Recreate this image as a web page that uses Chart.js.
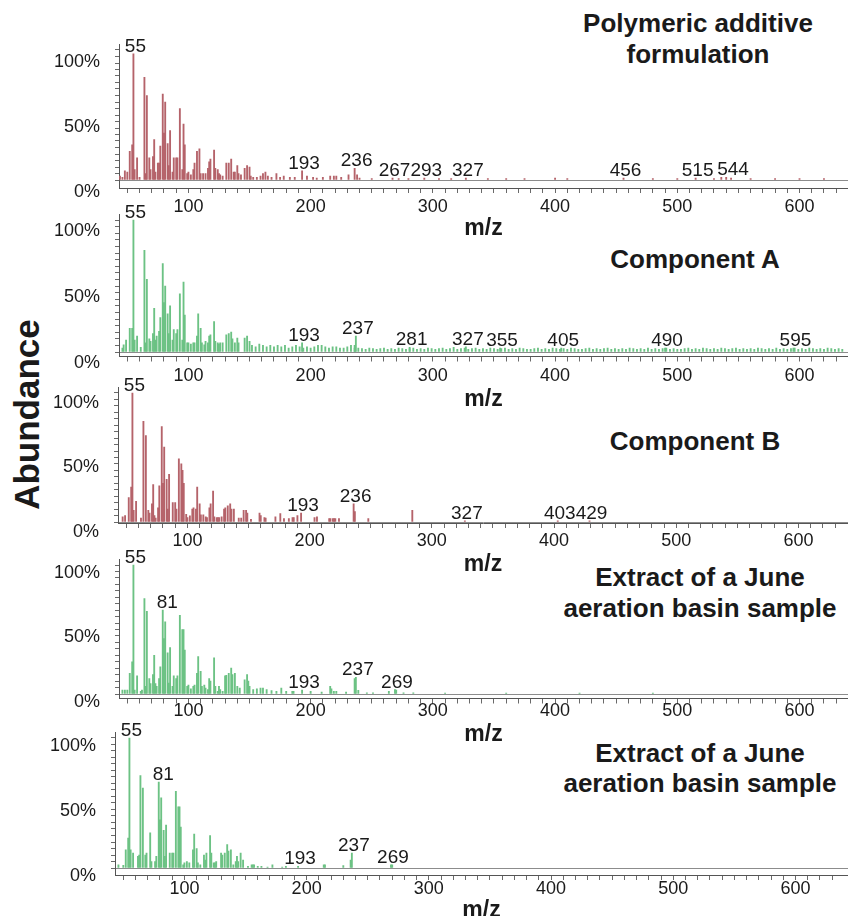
<!DOCTYPE html>
<html>
<head>
<meta charset="utf-8">
<title>EI mass spectra</title>
<script src="https://cdn.jsdelivr.net/npm/chart.js@4.4.1/dist/chart.umd.min.js"></script>
<style>
  html, body { margin: 0; padding: 0; background: #fff; }
  #fig {
    position: relative; width: 848px; height: 916px; overflow: hidden;
    font-family: "Liberation Sans", Arial, sans-serif; color: #1a1a1a;
  }
  .title {
    position: absolute; width: 420px; text-align: center;
    font-weight: bold; font-size: 26px; line-height: 31px;
  }
  #abundance {
    position: absolute; left: -124px; top: 397px; width: 300px;
    text-align: center; font-weight: bold; font-size: 35px; line-height: 35px;
    transform: rotate(-90deg);
  }
</style>
</head>
<body>
<div id="fig">
  <div id="abundance">Abundance</div>
  <div class="title" style="left:488px;top:8px">Polymeric additive<br>formulation</div>
  <div class="title" style="left:485px;top:244px">Component A</div>
  <div class="title" style="left:485px;top:426px">Component B</div>
  <div class="title" style="left:490px;top:562px">Extract of a June<br>aeration basin sample</div>
  <div class="title" style="left:490px;top:738px;line-height:30px">Extract of a June<br>aeration basin sample</div>
</div>
<script>
Chart.defaults.font.family = '"Liberation Sans", Arial, sans-serif';

// axis labels
const mzTicks = [100, 200, 300, 400, 500, 600];
const pctTicks = [0, 50, 100];

// Polymeric additive formulation
const polyMz = [
  44, 46, 48, 50, 52, 54, 55, 56, 58, 60,
  64, 65, 66, 68, 69, 71, 72, 73, 75, 76,
  77, 79, 80, 81, 83, 84, 85, 87, 88, 90,
  91, 93, 95, 96, 97, 99, 100, 102, 104, 105,
  107, 109, 110, 112, 114, 116, 117, 118, 121, 122,
  124, 125, 126, 128, 131, 133, 135, 137, 138, 140,
  141, 143, 146, 148, 150, 151, 153, 156, 159, 161,
  163, 165, 168, 172, 175, 178, 183, 187, 193, 197,
  202, 205, 210, 216, 219, 221, 225, 231, 236, 238,
  240, 250, 267, 272, 280, 293, 305, 315, 327, 345,
  360, 375, 400, 410, 456, 480, 500, 515, 530, 536,
  540, 544, 560, 580, 600, 620
];
const polyAb = [
  3, 2, 7, 6, 22, 27, 97, 8, 17, 2,
  79, 5, 65, 17, 8, 18, 31, 6, 13, 13,
  26, 66, 36, 60, 28, 11, 38, 6, 17, 17,
  17, 55, 8, 43, 27, 5, 6, 4, 8, 13,
  22, 24, 5, 5, 5, 9, 14, 16, 23, 9,
  8, 5, 4, 3, 13, 13, 16, 6, 6, 11,
  5, 4, 9, 11, 10, 3, 2, 2, 3, 5,
  6, 3, 2, 5, 2, 3, 2, 2, 7, 3,
  2, 1.5, 2, 3, 3, 3, 2, 4, 9, 4,
  1.5, 1, 1.5, 1, 1, 1.5, 1, 1, 1.5, 1,
  1, 1, 1.5, 1, 1.5, 1, 1, 1.5, 1, 2,
  2, 1.5, 1, 1, 1, 1
];
const polyPeaks = [55, 193, 236, 267, 293, 327, 456, 515, 544];

// Component A
const compAMz = [
  46, 47, 49, 52, 54, 55, 56, 58, 61, 64,
  65, 66, 68, 69, 71, 72, 73, 74, 76, 77,
  79, 80, 81, 83, 84, 85, 87, 88, 90, 91,
  93, 95, 96, 97, 99, 100, 102, 104, 105, 107,
  108, 110, 111, 113, 114, 116, 117, 118, 121, 122,
  124, 125, 126, 128, 131, 133, 135, 136, 138, 140,
  141, 146, 148, 150, 193, 236, 237, 281, 327, 355,
  405, 490, 595
];
const compAAb = [
  3, 5.5, 9, 18, 18, 100, 9, 12, 3.5, 77,
  7, 55, 10, 8, 14, 33, 9, 12, 15.6, 26,
  67, 37.5, 50, 29, 14, 35, 9, 17, 14, 17,
  44, 9, 53, 28, 7, 7, 6, 7, 7, 12,
  29, 18, 7, 5.5, 8, 7, 12, 13, 23, 8,
  7, 6, 7, 7, 13, 14, 15, 10, 7, 10.6,
  7, 10.6, 12, 8, 7, 5, 12, 3.5, 4, 3,
  3, 3, 3
];
// Component A low-level background ions
const compANoiseMz = [
  152, 155, 158, 161, 164, 167, 170, 173, 176, 179,
  182, 185, 188, 191, 194, 197, 200, 203, 206, 209,
  212, 215, 218, 221, 224, 227, 230, 233, 236, 239,
  242, 245, 248, 251, 254, 257, 260, 263, 266, 269,
  272, 275, 278, 281, 284, 287, 290, 293, 296, 299,
  302, 305, 308, 311, 314, 317, 320, 323, 326, 329,
  332, 335, 338, 341, 344, 347, 350, 353, 356, 359,
  362, 365, 368, 371, 374, 377, 380, 383, 386, 389,
  392, 395, 398, 401, 404, 407, 410, 413, 416, 419,
  422, 425, 428, 431, 434, 437, 440, 443, 446, 449,
  452, 455, 458, 461, 464, 467, 470, 473, 476, 479,
  482, 485, 488, 491, 494, 497, 500, 503, 506, 509,
  512, 515, 518, 521, 524, 527, 530, 533, 536, 539,
  542, 545, 548, 551, 554, 557, 560, 563, 566, 569,
  572, 575, 578, 581, 584, 587, 590, 593, 596, 599,
  602, 605, 608, 611, 614, 617, 620, 623, 626, 629,
  632, 635
];
const compANoiseAb = [
  5, 4, 6, 5, 4, 5, 4, 5, 4, 5,
  3, 4, 5, 4, 3, 4, 3, 4, 5, 5,
  4, 3, 4, 4, 3, 3, 4, 5, 3, 3,
  2.5, 2, 3, 2.5, 2, 2.5, 3, 2, 2.5, 2,
  3, 2.5, 2, 2.5, 3, 2, 2.5, 2, 3, 2.5,
  2, 2.5, 3, 2, 2.5, 3.5, 2, 2.5, 3, 2,
  2.5, 3, 2, 2.5, 2, 3, 2.5, 2, 2.5, 3,
  2, 2.5, 2, 3, 2.5, 2, 2, 2.5, 3, 2,
  2.5, 2, 3, 2.5, 2, 2.5, 2, 3, 2.5, 2,
  2, 2.5, 3, 2, 2.5, 2, 2.5, 3, 2, 2.5,
  2, 2.5, 2, 3, 2.5, 2, 2.5, 2, 3, 2,
  2.5, 2, 2.5, 3, 2, 2.5, 2, 2, 2.5, 3,
  2, 2.5, 2, 3, 2.5, 2, 2.5, 2, 3, 2.5,
  2, 2.5, 3, 2, 2.5, 2, 2.5, 2, 3, 2.5,
  2, 2.5, 2, 3, 2, 2.5, 2, 2.5, 3, 2,
  2.5, 2, 3, 2.5, 2, 2.5, 2, 3, 2.5, 2,
  2.5, 2
];
const compAPeaks = [55, 193, 237, 281, 327, 355, 405, 490, 595];

// Component B
const compBMz = [
  47, 49, 52, 54, 55, 56, 58, 62, 64, 66,
  68, 69, 71, 72, 73, 74, 76, 77, 79, 80,
  81, 83, 84, 85, 88, 90, 91, 93, 95, 96,
  97, 99, 100, 102, 104, 105, 107, 108, 110, 111,
  113, 115, 116, 118, 119, 121, 122, 124, 125, 126,
  128, 130, 131, 133, 135, 136, 138, 142, 144, 146,
  148, 149, 152, 159, 160, 163, 164, 172, 176, 179,
  183, 186, 187, 190, 193, 204, 206, 216, 217, 219,
  220, 221, 224, 236, 237, 248, 284, 327, 403, 429
];
const compBAb = [
  4, 5, 19, 27, 100, 9, 16, 3, 78, 67,
  9, 7, 14, 29, 5, 3, 11, 28, 74, 30,
  58, 33, 10, 37, 15, 15, 10, 49, 45, 40,
  30, 6, 3.4, 4.7, 10, 11, 10, 27, 14, 5.5,
  5.5, 4, 3.4, 11, 14, 24, 4, 3.4, 3.4, 3.4,
  4, 10, 11, 12.5, 14, 10, 10, 3, 3, 9,
  9, 7, 2, 7, 5, 3.4, 3, 4, 6.5, 2.6,
  2.6, 3.4, 3.4, 5, 7, 3.4, 4, 2.6, 2.6, 2.6,
  2.6, 2.6, 2.6, 14, 8, 2.6, 9, 1, 1, 1
];
const compBPeaks = [55, 193, 236, 327, 403, 429];

// Extract of a June aeration basin sample (first run)
const june1Mz = [
  46, 48, 50, 52, 54, 55, 56, 58, 61, 62,
  64, 65, 66, 68, 69, 71, 72, 73, 74, 76,
  77, 79, 80, 81, 83, 84, 85, 87, 88, 90,
  91, 93, 95, 96, 97, 99, 100, 102, 104, 105,
  107, 108, 110, 111, 113, 114, 116, 117, 118, 121,
  122, 124, 125, 126, 128, 130, 131, 133, 135, 136,
  138, 140, 142, 146, 148, 149, 150, 153, 156, 159,
  161, 164, 168, 172, 176, 180, 185, 186, 193, 200,
  209, 216, 217, 219, 221, 229, 236, 237, 239, 246,
  251, 264, 269, 270, 276, 284, 310, 360, 420, 480
];
const june1Ab = [
  3, 3, 3, 16, 25, 100, 3, 14, 2, 3,
  74, 6, 64, 12, 8, 15, 30, 8, 6, 12,
  21, 65, 43, 56, 32, 8.5, 36, 6, 14, 12,
  14, 61, 50, 50, 34, 6, 7, 4, 6, 7,
  16, 29, 17.5, 6, 7, 4.5, 3.4, 12, 10, 28,
  6, 2, 6, 3.4, 2, 14, 14.4, 16, 20, 15,
  16, 6, 4.6, 11, 15, 10, 6, 3.4, 4, 4.6,
  4.6, 3.4, 2.6, 2, 4.6, 2, 2, 2, 3, 2,
  1.5, 6, 4, 2, 2, 1.5, 12, 13, 2.8, 1,
  1, 2, 3.4, 3, 1, 1, 0.8, 0.8, 0.8, 0.8
];
const june1Peaks = [55, 81, 193, 237, 269];

// Extract of a June aeration basin sample (second run)
const june2Mz = [
  46, 50, 52, 54, 55, 56, 58, 62, 63, 64,
  66, 68, 69, 72, 73, 76, 77, 79, 80, 81,
  83, 84, 85, 88, 90, 91, 93, 95, 96, 97,
  99, 100, 102, 104, 107, 108, 110, 111, 113, 116,
  117, 118, 121, 122, 124, 125, 126, 130, 131, 133,
  135, 136, 138, 140, 142, 143, 144, 146, 148, 152,
  155, 156, 157, 160, 163, 168, 172, 180, 183, 193,
  214, 215, 230, 236, 237, 269, 270
];
const june2Ab = [
  2.5, 2, 14, 23, 100, 14, 11.5, 9, 10, 71,
  61.5, 10, 11.5, 27, 5, 5, 9, 66, 37, 54,
  29, 9, 33, 11.5, 11.5, 11.5, 59, 47, 47, 31.5,
  2.5, 4, 5, 4, 14, 26, 15, 4, 2.5, 10,
  6, 11.5, 25, 11.5, 4, 4, 5, 11.5, 10, 11.5,
  18, 13, 14, 2.5, 5, 9, 5, 11.5, 6, 1.3,
  2.5, 2.5, 2.5, 1.3, 1.3, 0.8, 2.5, 0.8, 1.3, 1.3,
  2.5, 2.5, 1.8, 6, 11.5, 2.5, 2.5
];
const june2Peaks = [55, 81, 193, 237, 269];

const RED = '#b5636a';
const GREEN = '#6cc284';

// minor tick positions: every 10 m/z and every 5 %
const minorMz = [];
for (let v = 50; v <= 630; v += 10) minorMz.push(v);
const minorPct = [];
for (let v = 0; v <= 100; v += 5) minorPct.push(v);

// writes the m/z of labelled peaks just above the tallest bar under the text
const peakLabels = {
  id: 'peakLabels',
  afterDatasetsDraw(chart, args, opts) {
    const { ctx, scales: { x, y } } = chart;
    ctx.save();
    ctx.font = '19px "Liberation Sans", Arial, sans-serif';
    ctx.fillStyle = '#1a1a1a';
    ctx.textAlign = 'center';
    ctx.textBaseline = 'alphabetic';
    opts.labels.forEach((m) => {
      const px = x.getPixelForValue(m);
      const half = ctx.measureText(String(m)).width / 2;
      let top = 0;
      chart.data.datasets.forEach((ds) => {
        ds.data.forEach((pt) => {
          if (Math.abs(x.getPixelForValue(pt.x) - px) <= half && pt.y > top) top = pt.y;
        });
      });
      ctx.fillText(String(m), px + 2, y.getPixelForValue(top) - 2);
    });
    ctx.restore();
  }
};

// page geometry of each panel: pixel of 100 %, of 0 %, gap down to the axis line
const panels = [
  { mz: [polyMz], ab: [polyAb], color: RED, peaks: polyPeaks,
    y100: 50, base: 180, gap: 8, dx: 0, yOff: 12, xPad: 3.7, mzOff: 40.5 },
  { mz: [compANoiseMz, compAMz], ab: [compANoiseAb, compAAb], color: GREEN, peaks: compAPeaks,
    y100: 220, base: 352, gap: 4.5, dx: 0, yOff: 11, xPad: 4, mzOff: 43 },
  { mz: [compBMz], ab: [compBAb], color: RED, peaks: compBPeaks,
    y100: 393, base: 522, gap: 1, dx: -1, yOff: 10, xPad: 2.2, mzOff: 41.5 },
  { mz: [june1Mz], ab: [june1Ab], color: GREEN, peaks: june1Peaks,
    y100: 565, base: 694, gap: 4.5, dx: 0, yOff: 8, xPad: -3.5, mzOff: 36.5 },
  { mz: [june2Mz], ab: [june2Ab], color: GREEN, peaks: june2Peaks,
    y100: 738, base: 868, gap: 7, dx: -4, yOff: 8, xPad: -1.8, mzOff: 36 }
];

const fig = document.getElementById('fig');
const X_MIN = 43.2;
const PX_PER_MZ = 1.2222;

panels.forEach((p) => {
  const k = (p.base - p.y100) / 100;
  const yMin = -p.gap / k;
  const top = p.y100 - 4 * k;
  const bottom = p.base + p.gap;
  const canvasTop = Math.floor(top) - 30;
  const padTop = top - canvasTop;
  const h = Math.ceil(padTop + (bottom - top) + 62);
  const xh = h - padTop - (bottom - top);
  const w = 848 - p.dx;
  const xMax = X_MIN + (w - 119) / PX_PER_MZ;

  const cv = document.createElement('canvas');
  cv.width = w;
  cv.height = h;
  cv.style.position = 'absolute';
  cv.style.left = p.dx + 'px';
  cv.style.top = canvasTop + 'px';
  fig.appendChild(cv);

  new Chart(cv, {
    type: 'bar',
    data: {
      datasets: p.mz.map((list, j) => ({
        data: list.map((m, n) => ({ x: m, y: p.ab[j][n] })),
        backgroundColor: p.color,
        borderWidth: 0,
        barThickness: 1.2,
        grouped: false
      }))
    },
    options: {
      responsive: false,
      animation: false,
      layout: { padding: { top: padTop, left: 0, right: 0, bottom: 0 } },
      plugins: {
        legend: { display: false },
        tooltip: { enabled: false },
        peakLabels: { labels: p.peaks }
      },
      scales: {
        x: {
          type: 'linear',
          min: X_MIN,
          max: xMax,
          offset: false,
          afterBuildTicks: (s) => { s.ticks = minorMz.map((v) => ({ value: v })); },
          afterFit: (s) => { s.height = xh; },
          ticks: {
            autoSkip: false,
            maxRotation: 0,
            padding: p.xPad,
            font: { size: 18 },
            color: '#1a1a1a',
            callback: (v) => (mzTicks.includes(v) ? String(v) : '')
          },
          grid: { drawOnChartArea: false, offset: false, tickLength: 5, tickColor: '#6a6a6a' },
          border: { color: '#555' },
          title: {
            display: true,
            text: 'm/z',
            color: '#1a1a1a',
            font: { size: 23, weight: 'bold' },
            padding: { top: 0, bottom: xh - p.mzOff - 13.8 }
          }
        },
        y: {
          min: yMin,
          max: 104,
          afterBuildTicks: (s) => { s.ticks = minorPct.map((v) => ({ value: v })); },
          afterFit: (s) => { s.width = 119; },
          ticks: {
            autoSkip: false,
            padding: 15,
            labelOffset: p.yOff,
            font: { size: 18 },
            color: '#1a1a1a',
            callback: (v) => (pctTicks.includes(v) ? v + '%' : '')
          },
          grid: {
            color: (c) => (c.tick && c.tick.value === 0 ? '#8c8c8c' : 'rgba(0,0,0,0)'),
            tickColor: '#6a6a6a',
            tickLength: 4
          },
          border: { color: '#555' }
        }
      }
    },
    plugins: [peakLabels]
  });
});
</script>
</body>
</html>
